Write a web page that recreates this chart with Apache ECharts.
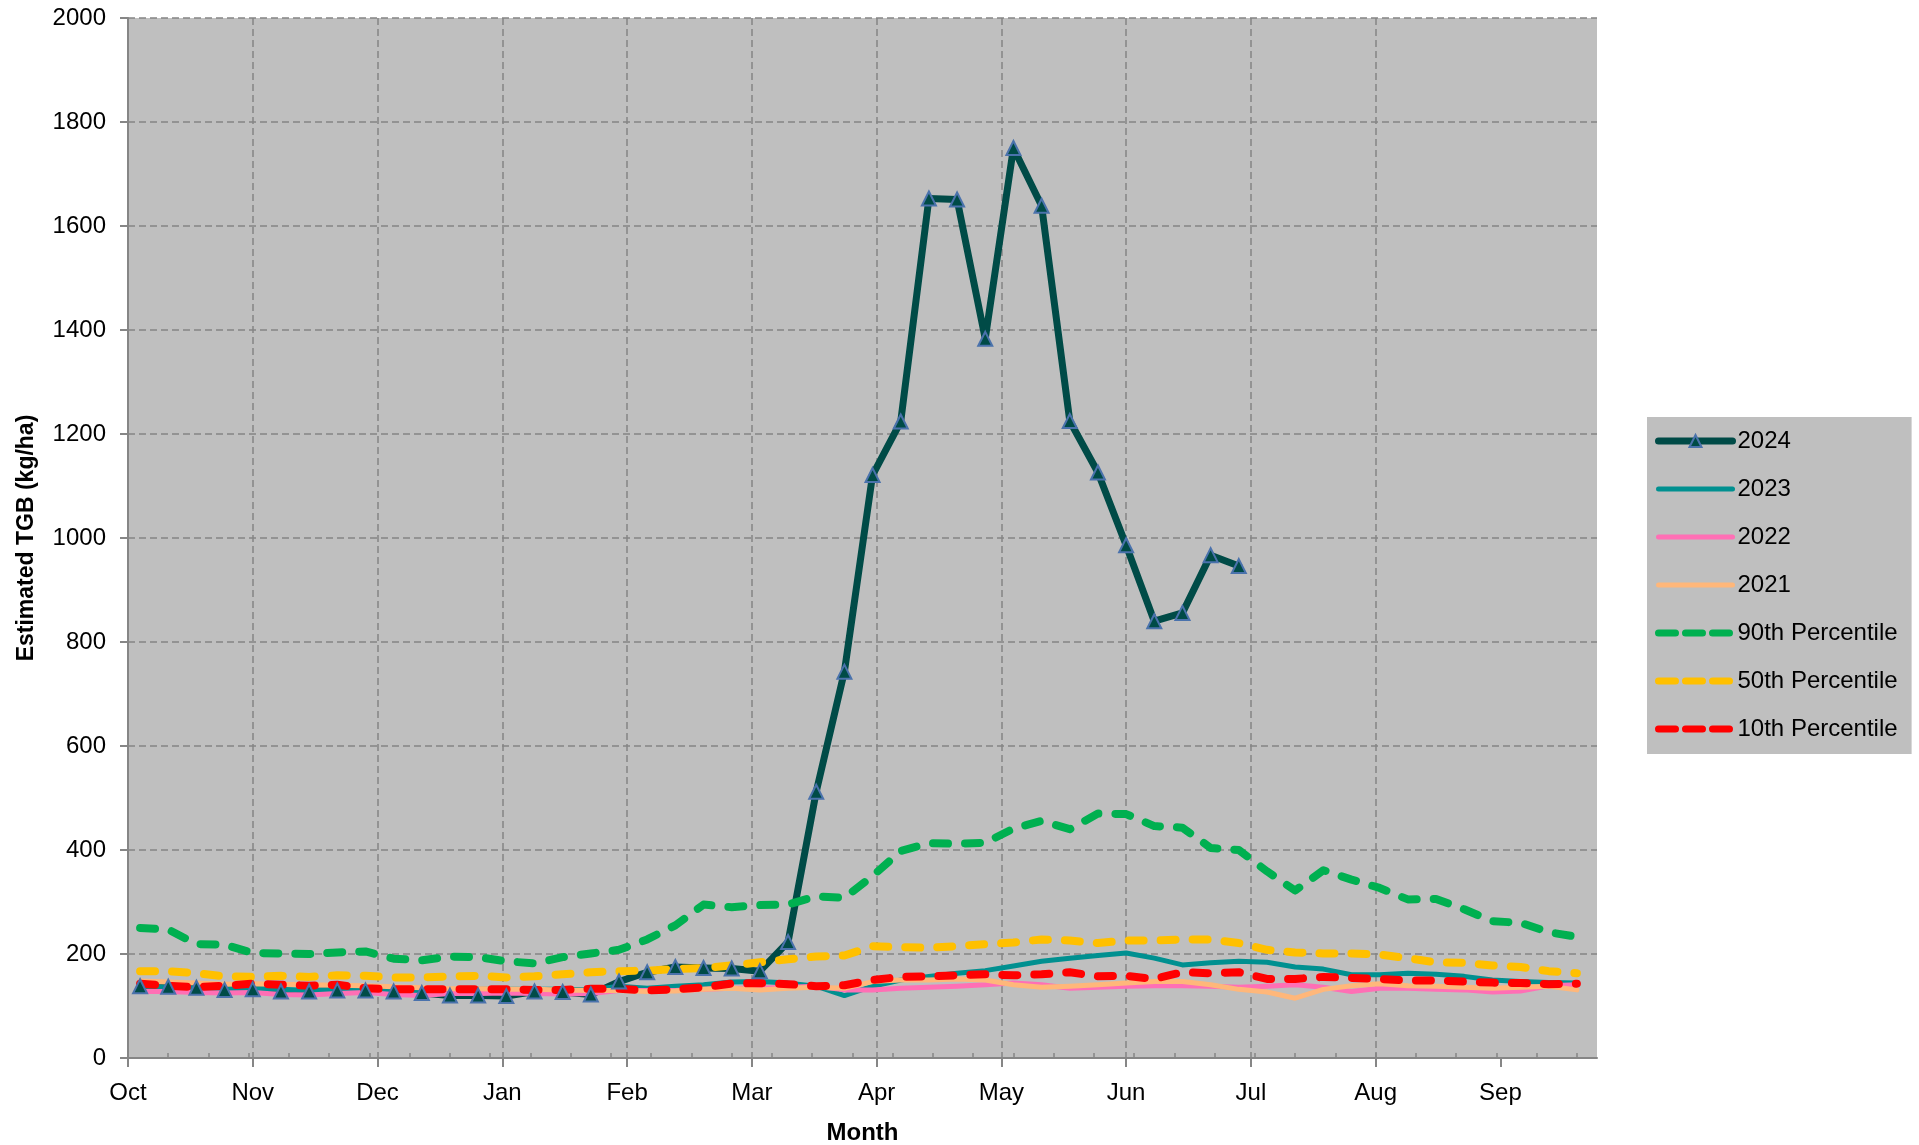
<!DOCTYPE html>
<html>
<head>
<meta charset="utf-8">
<script src="https://cdn.jsdelivr.net/npm/echarts@6/dist/echarts.min.js"></script>
<style>
html,body{margin:0;padding:0;background:#fff;}
#c{width:1919px;height:1145px;}
</style>
</head>
<body>
<div id="c"></div>
<script>
// Month tick labels (x axis runs Oct..Sep, 31-day major unit, 365 days total)
const months = ['Oct','Nov','Dec','Jan','Feb','Mar','Apr','May','Jun','Jul','Aug','Sep'];
const monthDays = [0,31,62,93,124,155,186,217,248,279,310,341];
const minorDays = [10,20,30,40,50,60,70,80,90,100,110,120,130,140,150,160,170,180,190,200,210,220,230,240,250,260,270,280,290,300,310,320,330,340,350,360];
// Weekly sample positions (days since Oct 1)
const weekDays = [3,10,17,24,31,38,45,52,59,66,73,80,87,94,101,108,115,122,129,136,143,150,157,164,171,178,185,192,199,206,213,220,227,234,241,248,255,262,269,276,283,290,297,304,311,318,325,332,339,346,353,360];

const seriesNames = ['2024','2023','2022','2021','90th Percentile','50th Percentile','10th Percentile'];

const v2024 = [138,137,135,131,132,128,128,130,130,128,125,120,120,119,128,127,122,
  147,165,175,173,172,167,223,512,743,1121,1224,1653,1651,1383,1750,1639,1225,1126,986,840,856,967,946];
const v2023 = [138,136,134,132,133,132,130,131,130,128,127,130,132,132,132,132,131,
  138,134,138,141,146,147,144,138,120,138,150,157,163,168,177,186,192,
  197,202,192,179,183,186,184,175,171,160,160,163,161,157,150,147,145,144];
const v2022 = [128,128,126,125,126,122,121,124,126,122,120,124,124,125,124,123,124,
  130,130,130,132,134,134,136,138,131,131,134,136,138,141,144,141,134,
  136,138,139,139,138,136,138,141,136,128,134,134,132,131,127,129,139,141];
const v2021 = [148,146,144,142,143,142,141,140,139,137,135,133,133,132,132,131,130,
  130,128,129,132,134,131,134,136,134,147,150,150,152,150,141,136,138,
  141,144,147,147,141,132,127,115,132,139,143,139,138,136,134,136,138,131];
const p90 = [250,247,219,218,202,201,200,203,205,191,188,195,194,186,182,194,201,
  208,228,255,295,290,294,295,311,308,350,398,413,412,414,441,456,440,
  470,469,446,443,404,400,359,322,361,343,327,305,306,286,263,260,242,233];
const p50 = [167,167,163,157,156,158,156,159,158,155,155,157,158,155,157,161,165,
  167,168,171,173,178,184,190,195,197,215,213,212,215,219,222,228,226,
  221,226,226,228,228,221,208,203,201,201,199,192,184,183,178,175,167,163];
const p10 = [143,139,136,139,143,141,139,141,134,132,132,132,132,132,131,131,133,
  133,130,132,136,143,144,142,138,140,150,156,157,159,161,159,161,165,
  157,158,152,165,163,165,152,152,156,154,152,149,149,147,145,144,142,143];

const yTicks = [0,200,400,600,800,1000,1200,1400,1600,1800,2000];

const COLORS = {'2024':'#004B47','2023':'#009090','2022':'#FF6FB5','2021':'#FFB77A',
  '90th Percentile':'#00B050','50th Percentile':'#FFC000','10th Percentile':'#FF0000'};

function pts(vals){ return vals.map((v,i)=>[weekDays[i], v]); }

const FONT = 'Liberation Sans';
const AXIS_COLOR = '#868686';
const GRID_LINE = {show:true, lineStyle:{color:'#858585', width:1.5, type:[7,4]}};
const DASH = [15,17];

const chart = echarts.init(document.getElementById('c'));

function solid(name, vals, width){
  const color = COLORS[name];
  return {name, type:'line', data:pts(vals), xAxisIndex:0, yAxisIndex:0,
    showSymbol:false, symbol:'none', smooth:false, silent:true,
    lineStyle:{color, width, cap:'round', join:'round'},
    itemStyle:{color}};
}
function dashed(name, vals){
  const color = COLORS[name];
  return {name, type:'line', data:pts(vals), xAxisIndex:0, yAxisIndex:0,
    showSymbol:false, symbol:'none', smooth:false, silent:true,
    lineStyle:{color, width:8, type:DASH, cap:'round', join:'round'},
    itemStyle:{color}};
}

const hidden = {color:'rgba(0,0,0,0)', borderWidth:0, borderColor:'rgba(0,0,0,0)'};
const legendData = [
  {name:'2024', lineStyle:{width:7, cap:'round'}, itemStyle:{color:COLORS['2024'], borderColor:'#4A72AC', borderWidth:2}},
  {name:'2023', lineStyle:{width:5, cap:'round'}, itemStyle:hidden},
  {name:'2022', lineStyle:{width:5, cap:'round'}, itemStyle:hidden},
  {name:'2021', lineStyle:{width:5, cap:'round'}, itemStyle:hidden},
  {name:'90th Percentile', lineStyle:{width:7, cap:'round', type:[17,10]}, itemStyle:hidden},
  {name:'50th Percentile', lineStyle:{width:7, cap:'round', type:[17,10]}, itemStyle:hidden},
  {name:'10th Percentile', lineStyle:{width:7, cap:'round', type:[17,10]}, itemStyle:hidden}
];

const option = {
  animation:false,
  backgroundColor:'#ffffff',
  textStyle:{fontFamily:FONT},
  grid:{left:128, top:18, width:1469, height:1040, show:true, backgroundColor:'#BFBFBF', borderWidth:0,
    containLabel:false, outerBoundsMode:'none'},
  legend:{
    orient:'vertical', left:1647, top:417,
    backgroundColor:'#BFBFBF', borderWidth:0,
    padding:[12,14,13,8],
    itemWidth:74, itemHeight:15, itemGap:24,
    textStyle:{fontFamily:FONT, fontSize:24, color:'#000', lineHeight:24},
    data:legendData
  },
  xAxis:[{
    type:'value', min:0, max:365, interval:31, position:'bottom',
    name:'Month', nameLocation:'middle', nameGap:63,
    nameTextStyle:{fontFamily:FONT, fontSize:24, fontWeight:'bold', color:'#000'},
    axisLine:{show:true, onZero:false, lineStyle:{color:AXIS_COLOR, width:2}},
    axisTick:{show:true, inside:false, length:9, lineStyle:{color:AXIS_COLOR, width:2}, customValues:monthDays},
    axisLabel:{show:true, margin:23, fontFamily:FONT, fontSize:24, color:'#000', customValues:monthDays,
      formatter:function(v){ const i = monthDays.indexOf(Math.round(v)); return i>=0 ? months[i] : ''; }},
    splitLine:Object.assign({showMinLine:false, showMaxLine:false}, GRID_LINE)
  },{
    type:'value', min:0, max:365, interval:10, position:'bottom', gridIndex:0,
    axisLine:{show:false, onZero:false},
    axisTick:{show:true, inside:true, length:5, lineStyle:{color:AXIS_COLOR, width:1.5}, customValues:minorDays},
    axisLabel:{show:false},
    splitLine:{show:false}
  }],
  yAxis:{
    type:'value', min:0, max:2000, interval:200,
    name:'Estimated TGB (kg/ha)', nameLocation:'middle', nameGap:90, nameRotate:90,
    nameTextStyle:{fontFamily:FONT, fontSize:23, fontWeight:'bold', color:'#000'},
    axisLine:{show:true, lineStyle:{color:AXIS_COLOR, width:2}},
    axisTick:{show:true, length:8, lineStyle:{color:AXIS_COLOR, width:2}},
    axisLabel:{margin:22, fontFamily:FONT, fontSize:24, color:'#000',
      formatter:function(v){ return yTicks.indexOf(v)>=0 ? String(v) : ''; }},
    splitLine:Object.assign({showMinLine:false}, GRID_LINE)
  },
  series:[
    {name:'2024', type:'line', data:pts(v2024), xAxisIndex:0, yAxisIndex:0, silent:true,
      symbol:'triangle', symbolSize:14, showSymbol:true,
      lineStyle:{color:COLORS['2024'], width:7, join:'round', cap:'round'},
      itemStyle:{color:COLORS['2024'], borderColor:'#4A72AC', borderWidth:2}},
    solid('2023', v2023, 5),
    solid('2022', v2022, 5),
    solid('2021', v2021, 5),
    dashed('90th Percentile', p90),
    dashed('50th Percentile', p50),
    dashed('10th Percentile', p10)
  ]
};
chart.setOption(option);
</script>
</body>
</html>
